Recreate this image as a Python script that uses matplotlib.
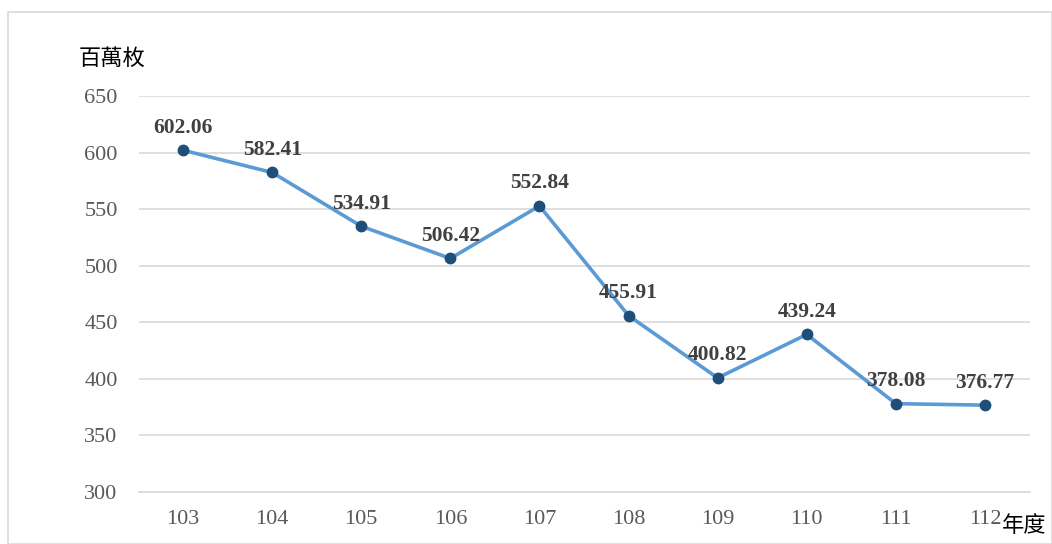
import matplotlib
matplotlib.use("Agg")
import matplotlib.pyplot as plt
from matplotlib.patches import Rectangle

years = ["103", "104", "105", "106", "107", "108", "109", "110", "111", "112"]
values = [602.06, 582.41, 534.91, 506.42, 552.84, 455.91, 400.82, 439.24, 378.08, 376.77]
yticks = [300, 350, 400, 450, 500, 550, 600, 650]

serif = ["Liberation Serif", "DejaVu Serif"]
cjk = ["Noto Sans CJK TC", "DejaVu Sans"]

fig = plt.figure(figsize=(10.52, 5.44), dpi=100)
fig.patches.append(Rectangle((8/1052, 0), 1 - 8/1052 - 0.5/1052, 1 - 12/544,
                             transform=fig.transFigure, fill=False,
                             edgecolor="#d9d9d9", linewidth=1.2))
ax = fig.add_axes([138.5/1052, 52/544, 891/1052, 396/544])

x = list(range(len(years)))
ax.plot(x, values, color="#5b9bd5", linewidth=2.6, zorder=3)
ax.plot(x, values, linestyle="none", marker="o", markersize=7.5,
        color="#1f4e79", zorder=4)
for xi, v in zip(x, values):
    ax.annotate(f"{v:.2f}", (xi, v), xytext=(0, 9), textcoords="offset points",
                ha="center", va="bottom", fontsize=15.5, fontweight="bold",
                color="#404040", family=serif)

ax.set_xlim(-0.5, len(years) - 0.5)
ax.set_ylim(300, 650)
ax.set_yticks(yticks)
ax.set_xticks(x)
ax.set_xticklabels(years)
ax.grid(axis="y", color="#d9d9d9", linewidth=1.2)
ax.set_axisbelow(True)
for s in ["top", "right", "left"]:
    ax.spines[s].set_visible(False)
ax.spines["bottom"].set_color("#d9d9d9")
ax.spines["bottom"].set_linewidth(1.2)
ax.tick_params(length=0, labelsize=16, labelcolor="#595959")
ax.tick_params(axis="y", pad=15)
ax.tick_params(axis="x", pad=13)
for lab in ax.get_xticklabels() + ax.get_yticklabels():
    lab.set_family(serif)

fig.text(112/1052, 1 - 58/544, "百萬枚", ha="center", va="center",
         fontsize=16, family=cjk, color="#000000")
fig.text(1024/1052, 1 - 526/544, "年度", ha="center", va="center",
         fontsize=16, family=cjk, color="#000000")

fig.savefig("out.png", dpi=100)
